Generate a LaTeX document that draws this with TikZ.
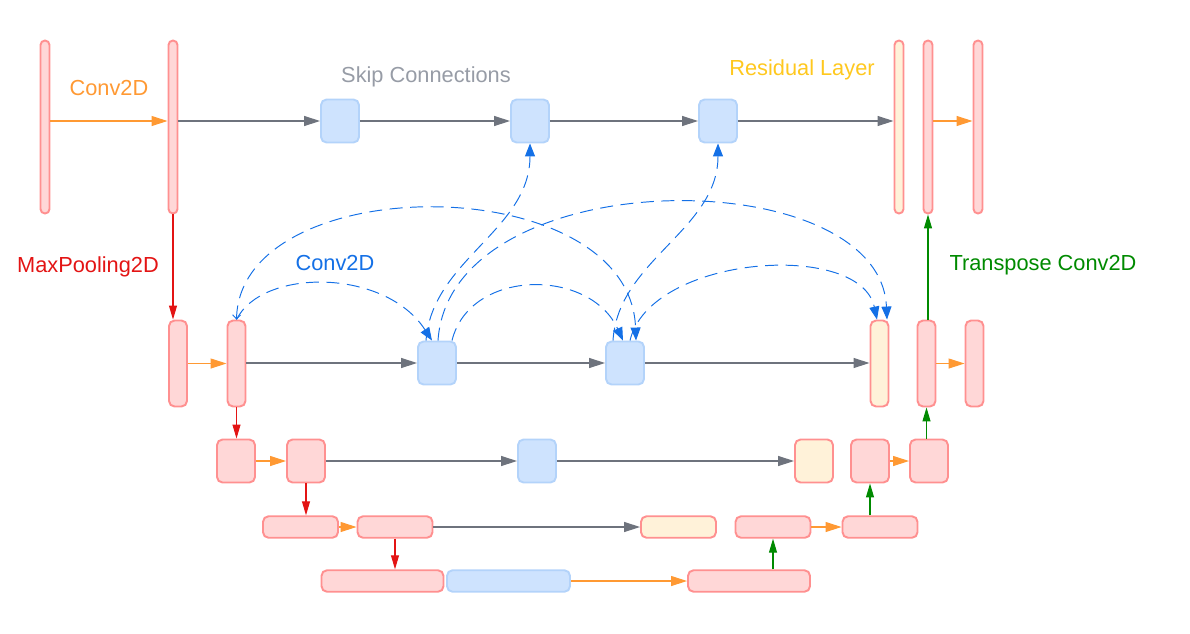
\documentclass[tikz,border=0pt]{standalone}
\usepackage{fontspec}
\setmainfont{Liberation Sans}
\usepackage{xcolor}
\usepackage{tikz}
\usetikzlibrary{arrows.meta,positioning,calc}

\definecolor{layerfill}{HTML}{FFD7D7}
\definecolor{layerdraw}{HTML}{FF9090}
\definecolor{skipfill}{HTML}{CEE3FE}
\definecolor{skipdraw}{HTML}{B3D3FA}
\definecolor{residfill}{HTML}{FFF2D9}
\definecolor{convcol}{HTML}{FF9933}
\definecolor{poolcol}{HTML}{E31414}
\definecolor{upcol}{HTML}{008A00}
\definecolor{skipcol}{HTML}{6E737D}
\definecolor{densecol}{HTML}{1470E6}
\definecolor{skiptext}{HTML}{979CA6}
\definecolor{residtext}{HTML}{FFC81E}

\begin{document}
\begin{tikzpicture}[
    x={(0.02cm,0)}, y={(0,-0.02cm)},
    font=\fontsize{12.4}{15}\selectfont,
    layer/.style={rectangle, draw=layerdraw, fill=layerfill, line width=1.1pt, rounded corners=0.11cm, inner sep=0pt},
    skip/.style={layer, draw=skipdraw, fill=skipfill},
    resid/.style={layer, fill=residfill},
    barsize/.style={minimum width=0.18cm, minimum height=3.46cm, rounded corners=0.088cm},
    tallsize/.style={minimum width=0.36cm, minimum height=1.72cm},
    sqsize/.style={minimum width=0.76cm, minimum height=0.86cm},
    flatsize/.style={minimum width=1.5cm, minimum height=0.43cm},
    longsize/.style={minimum width=2.44cm, minimum height=0.43cm},
    conv/.style={convcol, line width=0.6pt, -{Triangle[length=0.32cm,width=0.2cm]}},
    pool/.style={poolcol, line width=0.6pt, -{Triangle[length=0.28cm,width=0.16cm]}},
    upconv/.style={upcol, line width=0.6pt, -{Triangle[length=0.28cm,width=0.16cm]}},
    skiparrow/.style={skipcol, line width=0.65pt, -{Triangle[length=0.32cm,width=0.2cm]}},
    dense/.style={densecol, line width=0.55pt, dash pattern=on 0.26cm off 0.15cm, -{Triangle[length=0.26cm,width=0.2cm]}}
]
\useasboundingbox (0,0) rectangle (1190,633);

% Top row
\node (input) [layer, barsize] at (45,127) {};
\node (e1) [layer, barsize] at (173,127) {};
\node (sk1) [skip, sqsize] at (340,121) {};
\node (sk2) [skip, sqsize] at (530,121) {};
\node (sk3) [skip, sqsize] at (718,121) {};
\node (res1) [resid, barsize] at (899,127) {};
\node (d1) [layer, barsize] at (928,127) {};
\node (output) [layer, barsize] at (978,127) {};

% Second row
\node (e2a) [layer, tallsize] at (178,363.5) {};
\node (e2b) [layer, tallsize] at (236.5,363.5) {};
\node (sk4) [skip, sqsize] at (437,363) {};
\node (sk5) [skip, sqsize] at (625,363) {};
\node (res2) [resid, tallsize] at (879.5,363.5) {};
\node (d2a) [layer, tallsize] at (926.5,363.5) {};
\node (d2b) [layer, tallsize] at (974.5,363.5) {};

% Third row
\node (e3a) [layer, sqsize] at (236,461) {};
\node (e3b) [layer, sqsize] at (306,461) {};
\node (sk6) [skip, sqsize] at (537,461) {};
\node (res3) [resid, sqsize] at (814,461) {};
\node (d3a) [layer, sqsize] at (870,461) {};
\node (d3b) [layer, sqsize] at (929,461) {};

% Fourth and fifth row
\node (e4a) [layer, flatsize] at (300.5,527) {};
\node (e4b) [layer, flatsize] at (395,527) {};
\node (res4) [resid, flatsize] at (678.5,527) {};
\node (d4a) [layer, flatsize] at (773,527) {};
\node (d4b) [layer, flatsize] at (880,527) {};
\node (e5) [layer, longsize] at (382.5,581) {};
\node (sk7) [skip, longsize, minimum width=2.46cm] at (508.5,581) {};
\node (d5) [layer, longsize] at (749,581) {};

% Labels
\node (lconv) [text=convcol] at (109,88) {Conv2D};
\node (lskip) [text=skiptext] at (426,77) {Skip Connections};
\node (lres) [text=residtext] at (802,70) {Residual Layer};
\node (lpool) [text=poolcol] at (88,267) {MaxPooling2D};
\node (ldense) [text=densecol] at (335,263) {Conv2D};
\node (lup) [text=upcol] at (1043,265) {Transpose Conv2D};

% Encoder
\draw [conv] (input.east |- sk1) -- (e1.west |- sk1);
\draw [skiparrow] (e1.east |- sk1) -- (sk1.west);
\draw [skiparrow] (sk1) -- (sk2);
\draw [skiparrow] (sk2) -- (sk3);
\draw [skiparrow] (sk3) -- (res1.west |- sk3);
\draw [pool] (e1.south) -- (e1.south |- e2a.north);
\draw [conv] (e2a) -- (e2b);
\draw [skiparrow] (e2b.east |- sk4) -- (sk4.west);
\draw [skiparrow] (sk4) -- (sk5);
\draw [skiparrow] (sk5) -- (res2.west |- sk5);
\draw [pool] (e2b.south) -- (e2b.south |- e3a.north);
\draw [conv] (e3a) -- (e3b);
\draw [skiparrow] (e3b) -- (sk6);
\draw [skiparrow] (sk6) -- (res3);
\draw [pool] (e3b.south) -- (e3b.south |- e4a.north);
\draw [conv] (e4a) -- (e4b);
\draw [skiparrow] (e4b) -- (res4);
\draw [pool] (e4b.south) -- (e4b.south |- e5.north);
\draw [conv] (sk7) -- (d5);

% Decoder
\draw [upconv] (d4a.south |- d5.north) -- (d4a.south);
\draw [conv] (d4a) -- (d4b);
\draw [upconv] (d3a.south |- d4b.north) -- (d3a.south);
\draw [conv] (d3a) -- (d3b);
\draw [upconv] (d2a.south |- d3b.north) -- (d2a.south);
\draw [conv] (d2a) -- (d2b);
\draw [upconv] (d1.south |- d2a.north) -- (d1.south);
\draw [conv] (d1.east |- sk3) -- (output.west |- sk3);

% Dense conv links (dashed)
\draw [dense] (e2b.north) .. controls (262,268) and (385,268) .. ($(sk4.north)+(-5,0)$);
\draw [dense, arrows={Straight Barb[length=0.08cm,width=0.16cm]-Triangle[length=0.26cm,width=0.2cm]}] (e2b.north) .. controls (240,168) and (630,168) .. ($(sk5.north)+(11,0)$);
\draw [dense] ($(sk4.north)+(-11,0)$) .. controls (432,260) and (530,230) .. (sk2.south);
\draw [dense] ($(sk4.north)+(15,0)$) .. controls (470,268) and (590,268) .. ($(sk5.north)+(-2,0)$);
\draw [dense] ($(sk4.north)+(1,0)$) .. controls (450,160) and (880,160) .. ($(res2.north)+(7.5,0)$);
\draw [dense] ($(sk5.north)+(-12,0)$) .. controls (618,260) and (718,230) .. (sk3.south);
\draw [dense] ($(sk5.north)+(5,0)$) .. controls (650,255) and (860,240) .. ($(res2.north)+(-2.5,0)$);

\end{tikzpicture}
\end{document}
